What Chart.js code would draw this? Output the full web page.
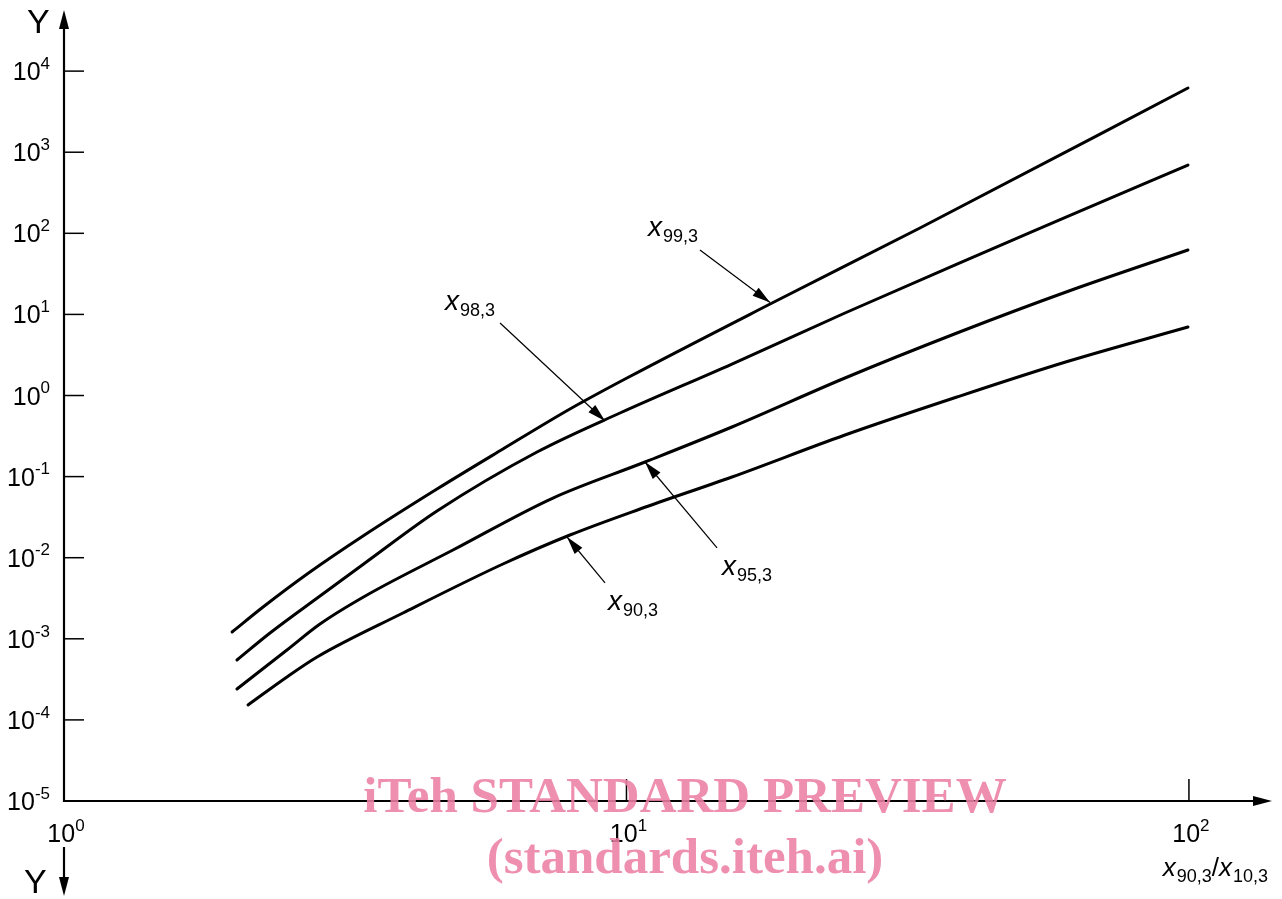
<!DOCTYPE html>
<html>
<head>
<meta charset="utf-8">
<script src="https://cdn.jsdelivr.net/npm/chart.js@4.4.1/dist/chart.umd.min.js"></script>
<style>
html, body { margin: 0; padding: 0; background: #fff; }
#wrap { width: 1282px; height: 899px; position: relative; }
</style>
</head>
<body>
<div id="wrap"><canvas id="myChart"></canvas></div>
<script>
// curves: x = x90,3/x10,3, y = Y
var x99 = [1.990, 2.259, 2.737, 3.401, 4.604, 6.031, 7.934, 10.02, 18.15, 33.25, 99.6];
var y99 = [0.001213, 0.002467, 0.00666, 0.01852, 0.0703, 0.2189, 0.6818, 1.644, 13.82, 116.3, 6190];

var x98 = [2.030, 2.324, 2.852, 3.429, 4.604, 6.934, 9.737, 15.40, 24.46, 38.69, 61.18, 99.6];
var y98 = [0.000548, 0.001179, 0.003371, 0.00860, 0.03765, 0.2011, 0.6085, 2.446, 10.41, 41.83, 163.5, 695.4];

var x95 = [2.030, 2.491, 2.852, 3.457, 4.915, 7.400, 10.79, 15.40, 24.46, 38.69, 61.18, 99.6];
var y95 = [0.0002404, 0.0007276, 0.001522, 0.003469, 0.01244, 0.05446, 0.1514, 0.4089, 1.644, 5.899, 19.43, 62.26];

var x90 = [2.124, 2.491, 2.818, 4.005, 6.031, 7.934, 10.57, 15.40, 24.46, 38.69, 61.18, 99.6];
var y90 = [0.0001527, 0.0003381, 0.0005965, 0.002080, 0.008364, 0.01905, 0.03987, 0.09888, 0.3258, 0.9583, 2.663, 6.993];

// axis ticks
var xTicks = [1, 10, 100];
var xTickExp = ['0', '1', '2'];
var yTicks = [1e-5, 1e-4, 1e-3, 1e-2, 1e-1, 1e0, 1e1, 1e2, 1e3, 1e4];
var yTickExp = ['-5', '-4', '-3', '-2', '-1', '0', '1', '2', '3', '4'];
var xMax = 140.5;
var yMax = 5.67e4;

// curve labels: subscript, arrow tip and arrow tail (data coords)
var curveNames = ['99,3', '98,3', '95,3', '90,3'];
var arrowTip = [[18.0, 14.0], [9.16, 0.485], [10.79, 0.1514], [7.84, 0.018]];
var arrowTail = [[13.51, 62.2], [5.96, 7.83], [14.49, 0.0132], [9.16, 0.00488]];
var labelOffset = [[-52, -14], [-55, -13], [5, 27], [3, 27]];

function toPoints(xs, ys) {
    return xs.map(function (v, i) { return { x: v, y: ys[i] }; });
}

function arrowHead(ctx, fx, fy, tx, ty, len, half) {
    var a = Math.atan2(ty - fy, tx - fx);
    ctx.beginPath();
    ctx.moveTo(tx, ty);
    ctx.lineTo(tx - len * Math.cos(a) + half * Math.sin(a), ty - len * Math.sin(a) - half * Math.cos(a));
    ctx.lineTo(tx - len * Math.cos(a) - half * Math.sin(a), ty - len * Math.sin(a) + half * Math.cos(a));
    ctx.closePath();
    ctx.fill();
}

var SANS = '"Liberation Sans", Arial, sans-serif';

// draws "x" italic + subscript, returns width
function subText(ctx, x, y, sub, big, small) {
    ctx.font = 'italic ' + big + 'px ' + SANS;
    ctx.fillText('x', x, y);
    var w = ctx.measureText('x').width;
    ctx.font = small + 'px ' + SANS;
    ctx.fillText(sub, x + w + 1, y + 6);
    return w + 1 + ctx.measureText(sub).width;
}

function powerLabel(ctx, exp, size) {
    ctx.font = size + 'px ' + SANS;
    var wb = ctx.measureText('10').width;
    ctx.font = Math.round(size * 0.68) + 'px ' + SANS;
    var we = ctx.measureText(exp).width;
    return { wb: wb, we: we };
}

function drawPower(ctx, x, y, exp, size) {
    // x = left, y = baseline of base
    ctx.font = size + 'px ' + SANS;
    ctx.fillText('10', x, y);
    var wb = ctx.measureText('10').width;
    ctx.font = Math.round(size * 0.68) + 'px ' + SANS;
    ctx.fillText(exp, x + wb, y - size * 0.45);
}

var axesPlugin = {
    id: 'axesPlugin',
    afterDraw: function (chart) {
        var ctx = chart.ctx;
        var xs = chart.scales.x, ys = chart.scales.y;
        var x0 = xs.getPixelForValue(1);
        var y0 = ys.getPixelForValue(1e-5);
        var xEnd = xs.right, yTop = ys.top;
        ctx.save();
        ctx.strokeStyle = '#000';
        ctx.fillStyle = '#000';
        ctx.textAlign = 'left';
        ctx.textBaseline = 'alphabetic';

        // axis lines + arrows
        ctx.lineWidth = 2.2;
        ctx.beginPath();
        ctx.moveTo(x0, yTop + 10);
        ctx.lineTo(x0, y0);
        ctx.lineTo(xEnd - 10, y0);
        ctx.stroke();
        arrowHead(ctx, x0, y0, x0, yTop, 19, 5);
        arrowHead(ctx, x0, y0, xEnd, y0, 19, 5);

        // second Y arrow below origin
        ctx.beginPath();
        ctx.moveTo(x0, y0 + 46);
        ctx.lineTo(x0, y0 + 86);
        ctx.stroke();
        arrowHead(ctx, x0, y0 + 46, x0, y0 + 95, 19, 5);

        // Y letters
        ctx.font = '34px ' + SANS;
        ctx.fillText('Y', 27, 33);
        ctx.fillText('Y', 24, 893);

        // ticks (inside)
        ctx.lineWidth = 1.5;
        yTicks.forEach(function (v, i) {
            var py = ys.getPixelForValue(v);
            if (i > 0) {
                ctx.beginPath();
                ctx.moveTo(x0, py);
                ctx.lineTo(x0 + 20, py);
                ctx.stroke();
            }
            var m = powerLabel(ctx, yTickExp[i], 25);
            drawPower(ctx, 50 - m.wb - m.we, py + 9, yTickExp[i], 25);
        });
        xTicks.forEach(function (v, i) {
            var px = xs.getPixelForValue(v);
            if (i > 0) {
                ctx.beginPath();
                ctx.moveTo(px, y0);
                ctx.lineTo(px, y0 - 22);
                ctx.stroke();
            }
            var m = powerLabel(ctx, xTickExp[i], 25);
            drawPower(ctx, px - (m.wb + m.we) / 2 + 2, y0 + 41, xTickExp[i], 25);
        });

        // x axis title: x90,3/x10,3
        var w1 = subText(ctx, 0, -1000, '90,3', 26, 18);
        ctx.font = '26px ' + SANS;
        var ws = ctx.measureText('/').width;
        var w2 = subText(ctx, 0, -1000, '10,3', 26, 18);
        var tx = 1268 - (w1 + ws + w2);
        var ty = 876;
        subText(ctx, tx, ty, '90,3', 26, 18);
        ctx.font = '26px ' + SANS;
        ctx.fillText('/', tx + w1, ty);
        subText(ctx, tx + w1 + ws, ty, '10,3', 26, 18);

        // curve labels with leader arrows
        ctx.lineWidth = 1.2;
        curveNames.forEach(function (name, i) {
            var tipX = xs.getPixelForValue(arrowTip[i][0]);
            var tipY = ys.getPixelForValue(arrowTip[i][1]);
            var tailX = xs.getPixelForValue(arrowTail[i][0]);
            var tailY = ys.getPixelForValue(arrowTail[i][1]);
            ctx.beginPath();
            ctx.moveTo(tailX, tailY);
            ctx.lineTo(tipX, tipY);
            ctx.stroke();
            arrowHead(ctx, tailX, tailY, tipX, tipY, 18, 5);
            subText(ctx, tailX + labelOffset[i][0], tailY + labelOffset[i][1], name, 28, 18);
        });

        // watermark
        ctx.globalAlpha = 0.88;
        ctx.fillStyle = '#ec7fa4';
        ctx.textAlign = 'center';
        ctx.font = 'bold 51px "Liberation Serif", "Times New Roman", serif';
        ctx.fillText('iTeh STANDARD PREVIEW', 685, 812);
        ctx.fillText('(standards.iteh.ai)', 685, 873);
        ctx.restore();
    }
};

var ctx = document.getElementById('myChart').getContext('2d');
function lineSet(xs, ys) {
    return {
        data: toPoints(xs, ys),
        borderColor: '#000',
        borderWidth: 3,
        pointRadius: 0,
        fill: false,
        cubicInterpolationMode: 'monotone',
        borderCapStyle: 'round',
        borderJoinStyle: 'round'
    };
}
var myChart = new Chart(ctx, {
    type: 'line',
    data: {
        datasets: [lineSet(x99, y99), lineSet(x98, y98), lineSet(x95, y95), lineSet(x90, y90)]
    },
    options: {
        animation: false,
        responsive: true,
        maintainAspectRatio: false,
        layout: { autoPadding: false, padding: { left: 64, right: 10, top: 10, bottom: 98 } },
        plugins: { legend: { display: false }, tooltip: { enabled: false } },
        scales: {
            x: { type: 'logarithmic', min: 1, max: xMax, display: false },
            y: { type: 'logarithmic', min: 1e-5, max: yMax, display: false }
        }
    },
    plugins: [axesPlugin]
});
</script>
</body>
</html>
